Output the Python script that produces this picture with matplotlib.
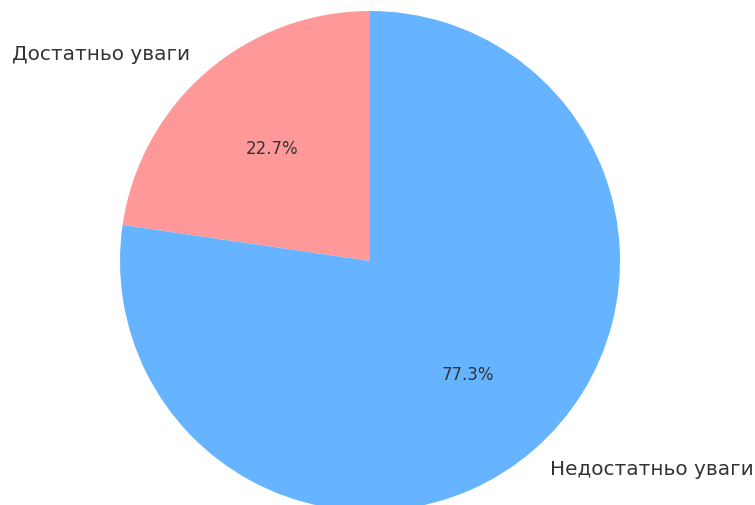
import matplotlib
matplotlib.use("Agg")
import matplotlib.pyplot as plt

labels = ["Достатньо уваги", "Недостатньо уваги"]
shares = [22.7, 77.3]
colors = ["#ff9999", "#66b3ff"]

W, H, DPI = 755, 506, 100
fig = plt.figure(figsize=(W / DPI, H / DPI), dpi=DPI)

cx, cy, r = 370, 262, 250
ax = fig.add_axes([(cx - r) / W, (H - cy - r) / H, 2 * r / W, 2 * r / H])

wedges, texts, autotexts = ax.pie(
    shares,
    labels=labels,
    colors=colors,
    autopct="%1.1f%%",
    startangle=90,
    textprops={"color": "#333333"},
)
for t in texts:
    t.set_fontsize(14.4)
for t in autotexts:
    t.set_fontsize(12)

ax.set_xlim(-1, 1)
ax.set_ylim(-1, 1)
ax.set_aspect("equal")
ax.axis("off")

fig.savefig("out.png", dpi=DPI)
